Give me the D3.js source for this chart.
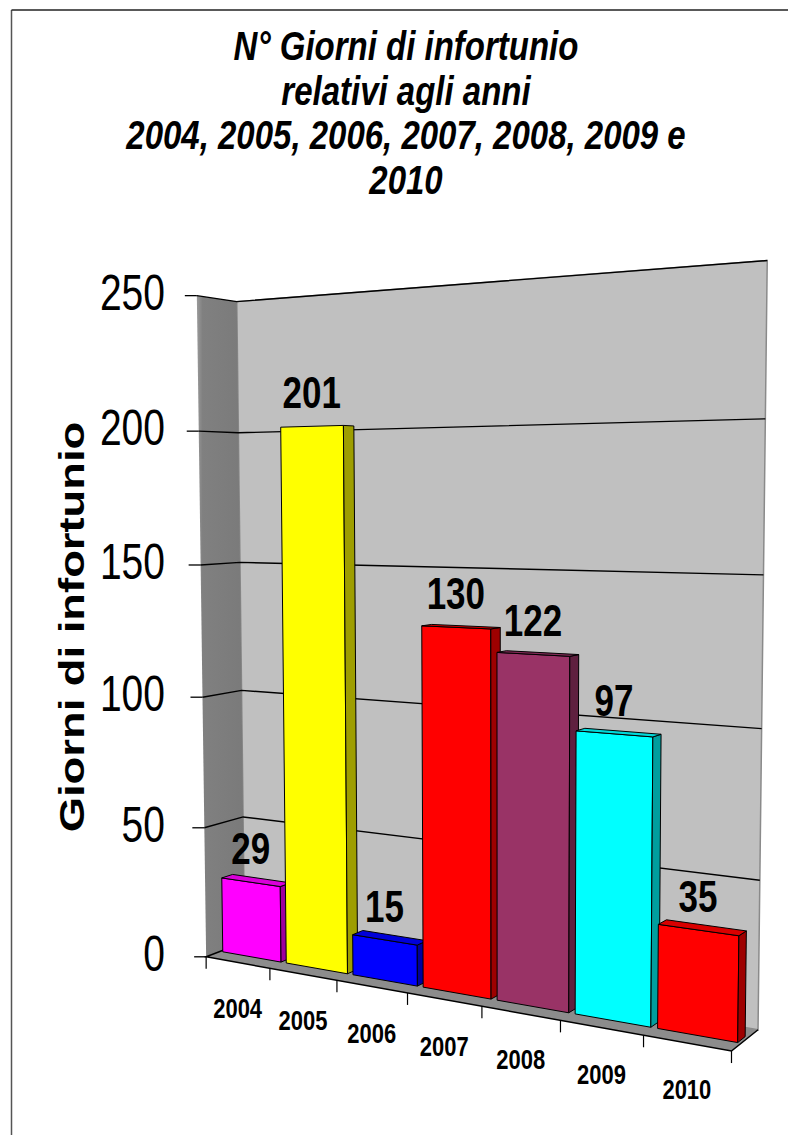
<!DOCTYPE html>
<html>
<head>
<meta charset="utf-8">
<script src="https://cdn.jsdelivr.net/npm/d3@7"></script>
<style>
  body { margin: 0; background: #fff; }
  svg { display: block; font-family: "Liberation Sans", Arial, sans-serif; }
</style>
</head>
<body>
<svg id="chart"></svg>
<script>
"use strict";

// --- data ---
const years = ["2004", "2005", "2006", "2007", "2008", "2009", "2010"];
const values = [29, 201, 15, 130, 122, 97, 35];
const barColors = ["#FF00FF", "#FFFF00", "#0000FF", "#FF0000", "#993366", "#00FFFF", "#FF0000"];
const yTicks = [0, 50, 100, 150, 200, 250];
const titleLines = ["N° Giorni di infortunio", "relativi agli anni", "2004, 2005, 2006, 2007, 2008, 2009 e", "2010"];
const yTitle = "Giorni di infortunio";

const width = 788;
const height = 1135;
const stretch = 1.26; // the original picture is taller than wide-scaled text

// plot box is a unit cube: x along categories, y value, z depth (0 front, 1 back).
// the camera is fitted on where the box corners sit on the page.
const boxAnchors = [
  [[0, 0, 0], [207, 957]],
  [[1, 0, 0], [733, 1051]],
  [[1, 0, 1], [758, 1030]],
  [[0, 0, 1], [245, 942]],
  [[0, 1, 0], [197, 295]],
  [[0, 1, 1], [237, 301]],
  [[1, 1, 1], [767, 261]],
  [[0, 0.2, 0], [204, 828]],
  [[0, 0.2, 1], [243, 817]],
  [[0, 0.8, 0], [199, 432]],
  [[0, 0.8, 1], [238, 433]],
  [[2 / 7, 0, 0], [336, 980]],
  [[5 / 7, 0, 0], [559, 1020]],
  [[1, 0.2, 1], [760, 880]],
];

function fitCamera(pairs) {
  const n = 11;
  const m = Array.from({ length: n }, () => new Array(n + 1).fill(0));
  const add = (row, rhs) => {
    for (let i = 0; i < n; i++) {
      for (let j = 0; j < n; j++) m[i][j] += row[i] * row[j];
      m[i][n] += row[i] * rhs;
    }
  };
  pairs.forEach(([[X, Y, Z], [u, v]]) => {
    add([X, Y, Z, 1, 0, 0, 0, 0, -u * X, -u * Y, -u * Z], u);
    add([0, 0, 0, 0, X, Y, Z, 1, -v * X, -v * Y, -v * Z], v);
  });
  for (let c = 0; c < n; c++) {
    let p = c;
    for (let r = c + 1; r < n; r++) if (Math.abs(m[r][c]) > Math.abs(m[p][c])) p = r;
    [m[c], m[p]] = [m[p], m[c]];
    for (let r = 0; r < n; r++) {
      if (r === c) continue;
      const f = m[r][c] / m[c][c];
      for (let k = c; k <= n; k++) m[r][k] -= f * m[c][k];
    }
  }
  return m.map((row, i) => row[n] / row[i]);
}

const cam = fitCamera(boxAnchors);
const P = [
  [cam[0], cam[1], cam[2], cam[3]],
  [cam[4], cam[5], cam[6], cam[7]],
  [cam[8], cam[9], cam[10], 1],
];

const project = ([X, Y, Z]) => {
  const w = P[2][0] * X + P[2][1] * Y + P[2][2] * Z + P[2][3];
  return [
    (P[0][0] * X + P[0][1] * Y + P[0][2] * Z + P[0][3]) / w,
    (P[1][0] * X + P[1][1] * Y + P[1][2] * Z + P[1][3]) / w,
  ];
};

// camera centre = null vector of P
const det3 = (a) =>
  a[0][0] * (a[1][1] * a[2][2] - a[1][2] * a[2][1]) -
  a[0][1] * (a[1][0] * a[2][2] - a[1][2] * a[2][0]) +
  a[0][2] * (a[1][0] * a[2][1] - a[1][1] * a[2][0]);
const cols = (idx) => P.map((r) => idx.map((i) => r[i]));
const cc = [det3(cols([1, 2, 3])), -det3(cols([0, 2, 3])), det3(cols([0, 1, 3])), -det3(cols([0, 1, 2]))];
const eye = [cc[0] / cc[3], cc[1] / cc[3], cc[2] / cc[3]];

// --- scales ---
const x = d3.scaleBand().domain(years).range([0, 1]).paddingInner(0.08).paddingOuter(0.04);
const y = d3.scaleLinear().domain([0, 250]).range([0, 1]);
const zFront = 0.36;
const zBack = 0.64;

const svg = d3.select("#chart").attr("width", width).attr("height", height);

const line = d3.line().x((d) => d[0]).y((d) => d[1]);
const poly = (pts) => line(pts.map((p) => project(p))) + "Z";

// frame
svg.append("line").attr("x1", 11.5).attr("x2", 11.5).attr("y1", 10).attr("y2", height)
  .attr("stroke", "#555").attr("stroke-width", 1.5);
svg.append("line").attr("x1", 11.5).attr("x2", width).attr("y1", 10).attr("y2", 10)
  .attr("stroke", "#222").attr("stroke-width", 1.5);

// title
const stretched = (sel, tx, ty) => sel.attr("transform", `translate(${tx},${ty}) scale(1,${stretch})`);
const title = svg.append("g")
  .attr("font-size", 33).attr("font-weight", "bold").attr("font-style", "italic")
  .attr("text-anchor", "middle");
titleLines.forEach((t, i) => {
  title.append("text").call(stretched, 406, 60 + i * 44.7).text(t);
});

// walls and floor
const defs = svg.append("defs");
const lg = defs.append("linearGradient").attr("id", "leftwall").attr("x1", 0).attr("x2", 1);
lg.append("stop").attr("offset", 0).attr("stop-color", "#9a9a9a");
lg.append("stop").attr("offset", 0.12).attr("stop-color", "#808080");
lg.append("stop").attr("offset", 1).attr("stop-color", "#7a7a7a");

svg.append("path").attr("d", poly([[0, 0, 1], [1, 0, 1], [1, 1, 1], [0, 1, 1]]))
  .attr("fill", "#C0C0C0").attr("stroke", "#8a8a8a").attr("stroke-width", 1.5);
svg.append("path").attr("d", poly([[0, 0, 0], [0, 0, 1], [0, 1, 1], [0, 1, 0]]))
  .attr("fill", "url(#leftwall)");
svg.append("path").attr("d", poly([[0, 0, 0], [1, 0, 0], [1, 0, 1], [0, 0, 1]]))
  .attr("fill", "#8c8c8c");
svg.append("path").attr("d", line([[0, 0, 1], [0, 0, 0], [1, 0, 0], [1, 0, 1]].map((p) => project(p))))
  .attr("fill", "none").attr("stroke", "#000").attr("stroke-width", 1.5);

// gridlines
const grid = svg.append("g").attr("fill", "none").attr("stroke", "#000").attr("stroke-width", 1.4);
yTicks.filter((v) => v > 0).forEach((v) => {
  grid.append("path").attr("d", line([[0, y(v), 0], [0, y(v), 1], [1, y(v), 1]].map((p) => project(p))));
});

// y axis ticks and labels
const yAxis = svg.append("g");
yTicks.forEach((v) => {
  const [px, py] = project([0, y(v), 0]);
  yAxis.append("line").attr("x1", px - 12).attr("x2", px).attr("y1", py).attr("y2", py)
    .attr("stroke", "#000").attr("stroke-width", 1.3);
  yAxis.append("text").call(stretched, 165, py + 14)
    .attr("text-anchor", "end").attr("font-size", 39).text(v);
});

svg.append("text")
  .attr("transform", `translate(84,627) scale(1,${stretch}) rotate(-90)`)
  .attr("text-anchor", "middle").attr("font-size", 36).attr("font-weight", "bold")
  .text(yTitle);

// x axis ticks and labels
const xAxis = svg.append("g");
d3.range(years.length + 1).forEach((k) => {
  const [px, py] = project([k * x.step(), 0, 0]);
  xAxis.append("line").attr("x1", px).attr("x2", px).attr("y1", py).attr("y2", py + 12)
    .attr("stroke", "#000").attr("stroke-width", 1.2);
});
years.forEach((yr) => {
  const [px, py] = project([x(yr) + x.bandwidth() / 2, 0, 0]);
  xAxis.append("text").call(stretched, px, py + 56)
    .attr("text-anchor", "middle").attr("font-size", 22).attr("font-weight", "bold").text(yr);
});

// bars
const bars = years.map((yr, i) => ({
  year: yr, value: values[i], color: barColors[i],
  x0: x(yr), x1: x(yr) + x.bandwidth(), h: y(values[i]),
}));

const faces = (b) => [
  { n: [0, 0, -1], k: 1, pts: [[b.x0, 0, zFront], [b.x1, 0, zFront], [b.x1, b.h, zFront], [b.x0, b.h, zFront]] },
  { n: [0, 0, 1], k: 0.6, pts: [[b.x0, 0, zBack], [b.x1, 0, zBack], [b.x1, b.h, zBack], [b.x0, b.h, zBack]] },
  { n: [1, 0, 0], k: 0.62, pts: [[b.x1, 0, zFront], [b.x1, 0, zBack], [b.x1, b.h, zBack], [b.x1, b.h, zFront]] },
  { n: [-1, 0, 0], k: 0.62, pts: [[b.x0, 0, zFront], [b.x0, 0, zBack], [b.x0, b.h, zBack], [b.x0, b.h, zFront]] },
  { n: [0, 1, 0], k: 0.85, pts: [[b.x0, b.h, zFront], [b.x1, b.h, zFront], [b.x1, b.h, zBack], [b.x0, b.h, zBack]] },
];

const visible = (f) => {
  const c = d3.range(3).map((j) => d3.mean(f.pts, (p) => p[j]));
  return f.n[0] * (eye[0] - c[0]) + f.n[1] * (eye[1] - c[1]) + f.n[2] * (eye[2] - c[2]) > 0;
};

const dist = (b) => {
  const c = [(b.x0 + b.x1) / 2, b.h / 2, (zFront + zBack) / 2];
  return Math.hypot(eye[0] - c[0], eye[1] - c[1], eye[2] - c[2]);
};

const barG = svg.append("g");
bars.slice().sort((a, b) => dist(b) - dist(a)).forEach((b) => {
  const g = barG.append("g");
  faces(b).filter(visible).forEach((f) => {
    const c = d3.rgb(b.color);
    const fill = d3.rgb(c.r * f.k, c.g * f.k, c.b * f.k);
    g.append("path").attr("d", poly(f.pts)).attr("fill", fill)
      .attr("stroke", "#000").attr("stroke-width", 1).attr("stroke-linejoin", "round");
  });
});

// value labels
const labels = svg.append("g").attr("font-size", 35).attr("font-weight", "bold").attr("text-anchor", "middle");
bars.forEach((b) => {
  const [px, py] = project([(b.x0 + b.x1) / 2, b.h, zFront]);
  labels.append("text").call(stretched, px, py - 18).text(b.value);
});
</script>
</body>
</html>
